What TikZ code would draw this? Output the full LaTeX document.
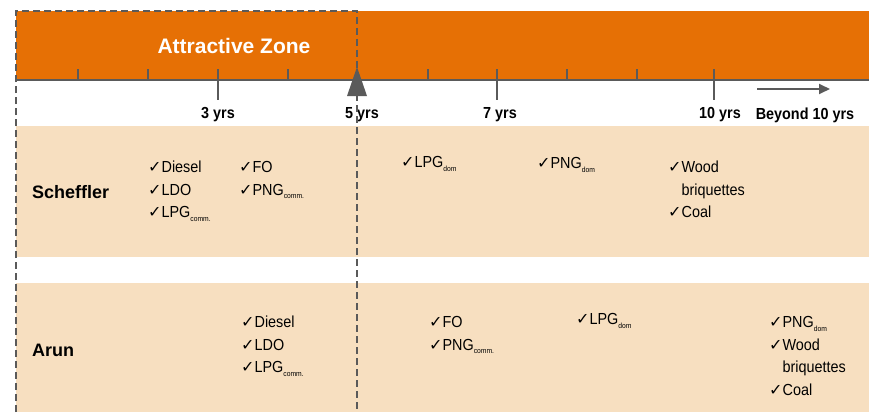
\documentclass[tikz,border=0pt]{standalone}
\usepackage{fontspec}
\setmainfont{Liberation Sans}
\newfontfamily\condfont[FakeStretch=0.9]{Liberation Sans}
\newfontfamily\checkfont{DejaVu Sans}
\usetikzlibrary{arrows.meta}

\definecolor{zoneorange}{HTML}{E67005}
\definecolor{bandpeach}{HTML}{F7DFC0}
\definecolor{axisgray}{HTML}{5A5A5A}

\newcommand{\chk}{\strut{\checkfont\fontsize{16}{22.5}\selectfont ✓}}
\newcommand{\subtx}[1]{\raisebox{-0.4ex}{\fontsize{7.5}{8}\selectfont #1}}

\begin{document}
\begin{tikzpicture}[
    x=1pt, y=-1pt,
    tickline/.style={
        draw=axisgray,
        line width=1.5pt
    },
    yearlabel/.style={
        font=\condfont\bfseries\fontsize{16}{18}\selectfont,
        inner sep=0pt
    },
    fuel/.style={
        font=\condfont\fontsize{16}{22.5}\selectfont,
        align=left,
        anchor=north west,
        inner sep=0pt
    },
    tech/.style={
        font=\bfseries\fontsize{18}{20}\selectfont,
        anchor=west,
        inner sep=0pt
    },
    zone/.style={
        draw=axisgray,
        line width=1.6pt,
        dash pattern=on 7pt off 4pt
    },
    arrow/.style={
        -{Triangle[length=11pt,width=10pt]},
        draw=axisgray,
        line width=1.8pt
    }
]

\useasboundingbox (0,0) rectangle (869,412);

% rows
\fill[bandpeach] (16,126) rectangle (869,257);
\fill[bandpeach] (16,283) rectangle (869,412);

% time line
\fill[zoneorange] (16,11) rectangle (869,80);
\node[font=\bfseries\fontsize{21}{22}\selectfont, text=white] (zone) at (234,46) {Attractive Zone};

\draw[tickline] (16,80) -- (869,80);
\foreach \x in {78,148,288,428,567,637}
    \draw[tickline] (\x,69) -- (\x,80);
\foreach \x in {218,497,714}
    \draw[tickline] (\x,69) -- (\x,100);

\node[yearlabel] (y3) at (218,115) {3 yrs};
\node[yearlabel] (y5) at (362,115) {5 yrs};
\node[yearlabel] (y7) at (500,115) {7 yrs};
\node[yearlabel] (y10) at (720,115) {10 yrs};
\node[yearlabel] (beyond) at (805,115) {Beyond 10 yrs};

\coordinate (beyondtail) at (757,89);
\coordinate (beyondhead) at (830,89);
\draw[arrow] (beyondtail) -- (beyondhead);

% attractive zone frame
\draw[zone] (16,412) -- (16,11) -- (357,11) -- (357,412);
\fill[axisgray] (347,96) -- (357,67) -- (367,96) -- cycle;

% Scheffler
\node[tech] (scheffler) at (32,192) {Scheffler};
\node[fuel] (schA) at (148,157) {\chk Diesel\\\chk LDO\\\chk LPG\subtx{comm.}};
\node[fuel] (schB) at (239,157) {\chk FO\\\chk PNG\subtx{comm.}};
\node[fuel] (schC) at (401,152) {\chk LPG\subtx{dom}};
\node[fuel] (schD) at (537,153) {\chk PNG\subtx{dom}};
\node[fuel] (schE) at (668,157) {\chk Wood\\\phantom{\chk}briquettes\\\chk Coal};

% Arun
\node[tech] (arun) at (32,350) {Arun};
\node[fuel] (arnA) at (241,312) {\chk Diesel\\\chk LDO\\\chk LPG\subtx{comm.}};
\node[fuel] (arnB) at (429,312) {\chk FO\\\chk PNG\subtx{comm.}};
\node[fuel] (arnC) at (576,309) {\chk LPG\subtx{dom}};
\node[fuel] (arnD) at (769,312) {\chk PNG\subtx{dom}\\\chk Wood\\\phantom{\chk}briquettes\\\chk Coal};

\end{tikzpicture}
\end{document}
